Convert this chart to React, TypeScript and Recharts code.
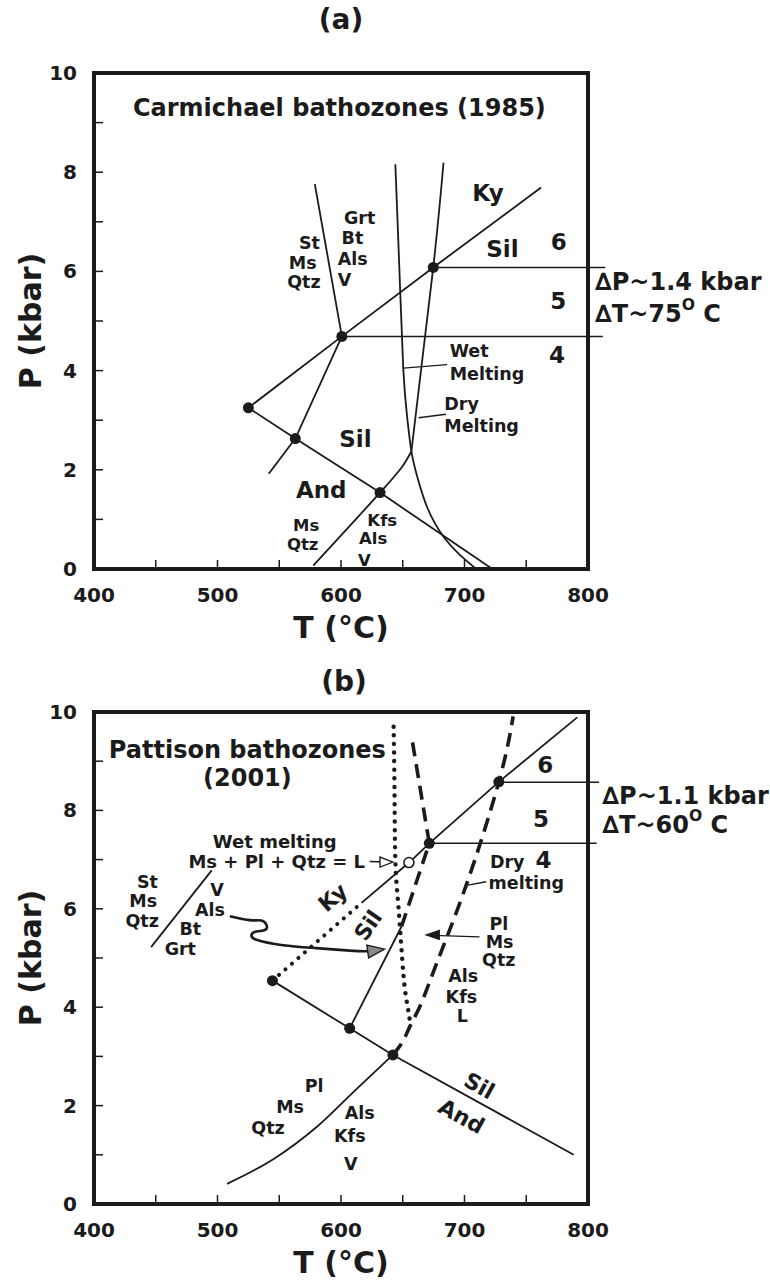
import React from 'react';
import { ComposedChart, XAxis, YAxis, Line, Scatter, ReferenceDot, ReferenceLine, ReferenceArea } from 'recharts';

type Pt = { T: number; P: number };
type Lbl = { T: number; P: number; text: string; size?: number; anchor?: 'start' | 'middle' | 'end'; rotate?: number; sup?: string; tail?: string };

// ---------- axes ----------
const tTicks = [400, 450, 500, 550, 600, 650, 700, 750, 800];
const pTicks = [0, 1, 2, 3, 4, 5, 6, 7, 8, 9, 10];
const tLabels = [400, 500, 600, 700, 800];
const pLabels = [0, 2, 4, 6, 8, 10];

// ---------- panel (a) Carmichael (1985) ----------
const aKySil: Pt[] = [{ T: 525, P: 3.25 }, { T: 600.7, P: 4.69 }, { T: 674.7, P: 6.08 }, { T: 762, P: 7.69 }];
const aAndSil: Pt[] = [{ T: 525, P: 3.25 }, { T: 563, P: 2.63 }, { T: 631.6, P: 1.54 }, { T: 722, P: 0.01 }];
const aStaurolite: Pt[] = [{ T: 578.8, P: 7.76 }, { T: 600.7, P: 4.69 }, { T: 563, P: 2.63 }, { T: 541.5, P: 1.92 }];
const aMsQtz: Pt[] = [{ T: 577.6, P: 0.07 }, { T: 604.5, P: 0.8 }, { T: 631.6, P: 1.54 }, { T: 642.6, P: 1.85 }, { T: 649.8, P: 2.07 }, { T: 657, P: 2.37 }];
const aWetMelt: Pt[] = [{ T: 644, P: 8.16 }, { T: 647.2, P: 6.1 }, { T: 650.4, P: 4.05 }, { T: 653.6, P: 3.05 }, { T: 657, P: 2.37 }, { T: 661.4, P: 1.89 }, { T: 670, P: 1.23 }, { T: 683, P: 0.65 }, { T: 696, P: 0.29 }, { T: 709, P: 0.01 }];
const aDryMelt: Pt[] = [{ T: 683, P: 8.19 }, { T: 674.7, P: 6.08 }, { T: 657, P: 2.37 }];
const aWetPointer: Pt[] = [{ T: 650.4, P: 4.05 }, { T: 686, P: 4.12 }];
const aDryPointer: Pt[] = [{ T: 662.8, P: 3.05 }, { T: 685, P: 3.12 }];
const aDots: Pt[] = [{ T: 525, P: 3.25 }, { T: 600.7, P: 4.69 }, { T: 674.7, P: 6.08 }, { T: 563, P: 2.63 }, { T: 631.6, P: 1.54 }];
const aZoneBounds = [{ P: 6.08, T0: 674.7, T1: 814 }, { P: 4.69, T0: 600.7, T1: 812 }];
const aLabels: Lbl[] = [
  { T: 598.7, P: 9.29, text: 'Carmichael bathozones (1985)', size: 24 },
  { T: 719, P: 7.58, text: 'Ky', size: 23 },
  { T: 730.7, P: 6.46, text: 'Sil', size: 23 },
  { T: 776.3, P: 6.59, text: '6', size: 23 },
  { T: 776, P: 5.41, text: '5', size: 23 },
  { T: 775, P: 4.32, text: '4', size: 23 },
  { T: 583, P: 6.57, text: 'St', anchor: 'end' },
  { T: 580.3, P: 6.16, text: 'Ms', anchor: 'end' },
  { T: 583.5, P: 5.78, text: 'Qtz', anchor: 'end' },
  { T: 602.4, P: 7.07, text: 'Grt', anchor: 'start' },
  { T: 600.5, P: 6.67, text: 'Bt', anchor: 'start' },
  { T: 597.3, P: 6.24, text: 'Als', anchor: 'start' },
  { T: 597.3, P: 5.83, text: 'V', anchor: 'start' },
  { T: 688, P: 4.39, text: 'Wet', anchor: 'start' },
  { T: 688, P: 3.94, text: 'Melting', anchor: 'start' },
  { T: 683.6, P: 3.32, text: 'Dry', anchor: 'start' },
  { T: 683.6, P: 2.89, text: 'Melting', anchor: 'start' },
  { T: 611.7, P: 2.63, text: 'Sil', size: 23 },
  { T: 584, P: 1.6, text: 'And', size: 23 },
  { T: 571.8, P: 0.87, text: 'Ms', size: 16.5 },
  { T: 569, P: 0.5, text: 'Qtz', size: 16.5 },
  { T: 633.4, P: 0.98, text: 'Kfs', size: 16.5 },
  { T: 626, P: 0.61, text: 'Als', size: 16.5 },
  { T: 619, P: 0.18, text: 'V', size: 16.5 },
  { T: 805.7, P: 5.78, text: '\u2206P~1.4 kbar', size: 24, anchor: 'start' },
  { T: 805.7, P: 5.14, text: '\u2206T~75', sup: 'O', tail: ' C', size: 24, anchor: 'start' },
];

// ---------- panel (b) Pattison (2001) ----------
const bKySilDotted: Pt[] = [{ T: 544.5, P: 4.54 }, { T: 616.6, P: 6.12 }];
const bKySil: Pt[] = [{ T: 616.6, P: 6.12 }, { T: 655.6, P: 6.95 }, { T: 671.5, P: 7.33 }, { T: 727.8, P: 8.58 }, { T: 791.3, P: 9.89 }];
const bAndSil: Pt[] = [{ T: 544.5, P: 4.54 }, { T: 607, P: 3.57 }, { T: 642, P: 3.03 }, { T: 788.4, P: 1.0 }];
const bStLine: Pt[] = [{ T: 446.2, P: 5.22 }, { T: 495.3, P: 6.78 }];
const bSilSolid: Pt[] = [{ T: 607, P: 3.57 }, { T: 649, P: 5.64 }];
const bWetDashed: Pt[] = [{ T: 649, P: 5.64 }, { T: 671.5, P: 7.33 }, { T: 657, P: 9.52 }];
const bDotted: Pt[] = [{ T: 642.6, P: 9.7 }, { T: 643.3, P: 8.5 }, { T: 644, P: 7.0 }, { T: 646, P: 6.2 }, { T: 647.5, P: 5.7 }, { T: 649.5, P: 5.0 }, { T: 651.5, P: 4.42 }, { T: 654, P: 4.0 }, { T: 656, P: 3.7 }];
const bMsQtz: Pt[] = [{ T: 507.7, P: 0.41 }, { T: 545.8, P: 0.92 }, { T: 580.5, P: 1.57 }, { T: 612.3, P: 2.33 }, { T: 642, P: 3.03 }];
const bDryMelt: Pt[] = [{ T: 642, P: 3.03 }, { T: 650, P: 3.3 }, { T: 656, P: 3.62 }, { T: 665, P: 4.08 }, { T: 678.5, P: 4.96 }, { T: 701.4, P: 6.48 }, { T: 727.8, P: 8.58 }, { T: 739.4, P: 9.91 }];
const bSquiggle: Pt[] = [{ T: 510, P: 5.85 }, { T: 526.2, P: 5.77 }, { T: 535.6, P: 5.76 }, { T: 539.7, P: 5.67 }, { T: 538.3, P: 5.57 }, { T: 530.2, P: 5.53 }, { T: 527.5, P: 5.47 }, { T: 531.6, P: 5.37 }, { T: 553.1, P: 5.26 }, { T: 580.1, P: 5.2 }, { T: 607, P: 5.15 }, { T: 623.2, P: 5.14 }, { T: 633, P: 5.17 }];
const bWetArrow: Pt[] = [{ T: 623.2, P: 6.96 }, { T: 636, P: 6.95 }];
const bPlArrow: Pt[] = [{ T: 712.2, P: 5.43 }, { T: 674, P: 5.46 }];
const bDryPointer: Pt[] = [{ T: 702.7, P: 6.48 }, { T: 717.6, P: 6.55 }];
const bDots: Pt[] = [{ T: 544.5, P: 4.54 }, { T: 607, P: 3.57 }, { T: 642, P: 3.03 }, { T: 671.5, P: 7.33 }, { T: 727.8, P: 8.58 }];
const bOpenDots: Pt[] = [{ T: 655, P: 6.94 }];
const bZoneBounds = [{ P: 8.57, T0: 727.8, T1: 809 }, { P: 7.33, T0: 671.5, T1: 807 }];
const bArrowHeads = [
  { T: 642.1, P: 6.95, angle: 0, len: 13, half: 5, fill: '#ffffff' },
  { T: 635.3, P: 5.18, angle: -8, len: 17, half: 6.5, fill: '#8a8a8a' },
  { T: 669, P: 5.47, angle: 180, len: 13, half: 4.5, fill: '#1b1b1b' },
];
const bLabels: Lbl[] = [
  { T: 524.2, P: 9.23, text: 'Pattison bathozones', size: 24 },
  { T: 524.2, P: 8.66, text: '(2001)', size: 24 },
  { T: 546.4, P: 7.36, text: 'Wet melting', size: 18 },
  { T: 619.5, P: 6.96, text: 'Ms + Pl + Qtz = L', size: 18, anchor: 'end' },
  { T: 443.3, P: 6.55, text: 'St' },
  { T: 439.9, P: 6.16, text: 'Ms' },
  { T: 439, P: 5.76, text: 'Qtz' },
  { T: 499.6, P: 6.38, text: 'V' },
  { T: 493.9, P: 5.98, text: 'Als' },
  { T: 478, P: 5.58, text: 'Bt' },
  { T: 469.9, P: 5.18, text: 'Grt' },
  { T: 593.5, P: 6.23, text: 'Ky', size: 22, rotate: -41 },
  { T: 622, P: 5.66, text: 'Sil', size: 22, rotate: -55 },
  { T: 720.6, P: 6.95, text: 'Dry', anchor: 'start' },
  { T: 763.9, P: 6.99, text: '4', size: 23 },
  { T: 719.5, P: 6.52, text: 'melting', anchor: 'start' },
  { T: 765.3, P: 8.92, text: '6', size: 23 },
  { T: 761.9, P: 7.83, text: '5', size: 23 },
  { T: 727.8, P: 5.7, text: 'Pl' },
  { T: 728.4, P: 5.33, text: 'Ms' },
  { T: 727.8, P: 4.96, text: 'Qtz' },
  { T: 698.9, P: 4.64, text: 'Als' },
  { T: 697.5, P: 4.21, text: 'Kfs' },
  { T: 698.3, P: 3.83, text: 'L' },
  { T: 712, P: 2.4, text: 'Sil', size: 22, rotate: 29 },
  { T: 697.5, P: 1.78, text: 'And', size: 22, rotate: 29 },
  { T: 578.2, P: 2.4, text: 'Pl' },
  { T: 558.8, P: 1.97, text: 'Ms' },
  { T: 540.9, P: 1.55, text: 'Qtz' },
  { T: 615.2, P: 1.84, text: 'Als' },
  { T: 607.1, P: 1.39, text: 'Kfs' },
  { T: 608, P: 0.81, text: 'V' },
  { T: 811.6, P: 8.3, text: '\u2206P~1.1 kbar', size: 24, anchor: 'start' },
  { T: 811.6, P: 7.7, text: '\u2206T~60', sup: 'O', tail: ' C', size: 24, anchor: 'start' },
];

// ---------- styling ----------
const INK = '#1b1b1b';
const FONT = '"DejaVu Sans", Verdana, sans-serif';

function tickRenderer(side: 'bottom' | 'top' | 'left' | 'right') {
  return (props: any) => {
    const { x, y, payload } = props;
    const v = Number(payload.value);
    const len = 9;
    const common = { stroke: INK, strokeWidth: 1.5 };
    if (side === 'bottom') {
      return (
        <g>
          <line x1={x} y1={y} x2={x} y2={y - len} {...common} />
          {tLabels.includes(v) && (
            <text x={x} y={y + 26} textAnchor="middle" dominantBaseline="central" fontSize={20} fontWeight="bold" fontFamily={FONT} fill={INK}>{v}</text>
          )}
        </g>
      );
    }
    if (side === 'top') return <line x1={x} y1={y} x2={x} y2={y + len} {...common} />;
    if (side === 'left') {
      return (
        <g>
          <line x1={x} y1={y} x2={x + len} y2={y} {...common} />
          {pLabels.includes(v) && (
            <text x={x - 17} y={y} textAnchor="end" dominantBaseline="central" fontSize={20} fontWeight="bold" fontFamily={FONT} fill={INK}>{v}</text>
          )}
        </g>
      );
    }
    return <line x1={x} y1={y} x2={x - len} y2={y} {...common} />;
  };
}

const xTitle = (props: any) => {
  const vb = props.viewBox || {};
  return (
    <text x={vb.x + vb.width / 2} y={vb.y + 58} textAnchor="middle" dominantBaseline="central" fontSize={30} fontWeight="bold" fontFamily={FONT} fill={INK}>T (°C)</text>
  );
};
const yTitle = (props: any) => {
  const vb = props.viewBox || {};
  const cx = 30;
  const cy = vb.y + vb.height / 2;
  return (
    <text x={cx} y={cy} transform={`rotate(-90 ${cx} ${cy})`} textAnchor="middle" dominantBaseline="central" fontSize={30} fontWeight="bold" fontFamily={FONT} fill={INK}>P (kbar)</text>
  );
};

function textShape(l: Lbl) {
  return (p: any) => {
    const { cx, cy } = p;
    const size = l.size ?? 17.5;
    return (
      <text
        x={cx}
        y={cy}
        textAnchor={l.anchor ?? 'middle'}
        dominantBaseline="central"
        fontSize={size}
        fontWeight="bold"
        fontFamily={FONT}
        fill={INK}
        transform={l.rotate ? `rotate(${l.rotate} ${cx} ${cy})` : undefined}
      >
        {l.text}
        {l.sup && <tspan dy={-9} fontSize={size * 0.65}>{l.sup}</tspan>}
        {l.tail && <tspan dy={9}>{l.tail}</tspan>}
      </text>
    );
  };
}

function arrowShape(a: { angle: number; len: number; half: number; fill: string }) {
  return (p: any) => {
    const { cx, cy } = p;
    const d = `M0,0 L${-a.len},${-a.half} L${-a.len},${a.half} Z`;
    return <path d={d} transform={`translate(${cx} ${cy}) rotate(${a.angle})`} fill={a.fill} stroke={INK} strokeWidth={1.4} strokeLinejoin="miter" />;
  };
}

const dotShape = (p: any) => <circle cx={p.cx} cy={p.cy} r={5.5} fill={INK} />;
const openDotShape = (p: any) => <circle cx={p.cx} cy={p.cy} r={5} fill="#ffffff" stroke={INK} strokeWidth={1.6} />;

function axes(xAxisHeight: number) {
  return [
    <XAxis key="xb" dataKey="T" type="number" domain={[400, 800]} ticks={tTicks} interval={0} allowDataOverflow height={xAxisHeight} axisLine={false} tickLine={false} tickSize={0} tickMargin={0} tick={tickRenderer('bottom')} label={xTitle} />,
    <XAxis key="xt" xAxisId="top" orientation="top" dataKey="T" type="number" domain={[400, 800]} ticks={tTicks} interval={0} allowDataOverflow height={0} axisLine={false} tickLine={false} tickSize={0} tickMargin={0} tick={tickRenderer('top')} />,
    <YAxis key="yl" dataKey="P" type="number" domain={[0, 10]} ticks={pTicks} interval={0} allowDataOverflow width={94} axisLine={false} tickLine={false} tickSize={0} tickMargin={0} tick={tickRenderer('left')} label={yTitle} />,
    <YAxis key="yr" yAxisId="right" orientation="right" dataKey="P" type="number" domain={[0, 10]} ticks={pTicks} interval={0} allowDataOverflow width={0} axisLine={false} tickLine={false} tickSize={0} tickMargin={0} tick={tickRenderer('right')} />,
    <ReferenceArea key="frame" x1={tTicks[0]} x2={tTicks[tTicks.length - 1]} y1={pTicks[0]} y2={pTicks[pTicks.length - 1]} ifOverflow="visible" fill="none" fillOpacity={0} stroke={INK} strokeWidth={4} strokeOpacity={1} />,
  ];
}

function curve(key: string, data: Pt[], opts: any = {}) {
  return (
    <Line
      key={key}
      data={data}
      dataKey="P"
      type={opts.type ?? 'linear'}
      stroke={INK}
      strokeWidth={opts.width ?? 1.8}
      strokeDasharray={opts.dash}
      strokeLinecap={opts.cap ?? 'butt'}
      dot={false}
      activeDot={false}
      isAnimationActive={false}
    />
  );
}

function zoneLines(bounds: { P: number; T0: number; T1: number }[], prefix: string) {
  return bounds.map((b, i) => (
    <ReferenceLine key={`${prefix}${i}`} segment={[{ x: b.T0, y: b.P }, { x: b.T1, y: b.P }]} ifOverflow="visible" stroke={INK} strokeWidth={1.5} />
  ));
}

function labels(ls: Lbl[], prefix: string) {
  return ls.map((l, i) => (
    <ReferenceDot key={`${prefix}${i}`} x={l.T} y={l.P} r={0} ifOverflow="visible" shape={textShape(l)} />
  ));
}

const titleStyle: React.CSSProperties = {
  position: 'absolute',
  left: 0,
  width: 682,
  textAlign: 'center',
  fontFamily: FONT,
  fontWeight: 'bold',
  fontSize: 28,
  color: INK,
  lineHeight: '34px',
};

export default function App() {
  return (
    <div style={{ position: 'absolute', left: 0, top: 0, width: 770, height: 1283, background: '#ffffff', overflow: 'hidden' }}>
      <div style={{ ...titleStyle, top: 3 }}>(a)</div>
      <div style={{ ...titleStyle, top: 665, width: 688 }}>(b)</div>

      <div style={{ position: 'absolute', left: 0, top: 0 }}>
        <ComposedChart width={770} height={660} margin={{ top: 73, right: 182, bottom: 0, left: 0 }}>
          {axes(91)}
          {curve('aKySil', aKySil)}
          {curve('aAndSil', aAndSil)}
          {curve('aSt', aStaurolite)}
          {curve('aMsQtz', aMsQtz, { type: 'monotone' })}
          {curve('aWet', aWetMelt, { type: 'natural' })}
          {curve('aDry', aDryMelt, { type: 'natural' })}
          {curve('aWetP', aWetPointer, { width: 1.4 })}
          {curve('aDryP', aDryPointer, { width: 1.4 })}
          {zoneLines(aZoneBounds, 'az')}
          <Scatter data={aDots} dataKey="P" shape={dotShape} isAnimationActive={false} />
          {labels(aLabels, 'al')}
        </ComposedChart>
      </div>

      <div style={{ position: 'absolute', left: 0, top: 640 }}>
        <ComposedChart width={770} height={643} margin={{ top: 72, right: 182, bottom: 0, left: 0 }}>
          {axes(79)}
          {curve('bKySilD', bKySilDotted, { width: 4, dash: '0.1 8.5', cap: 'round' })}
          {curve('bKySil', bKySil)}
          {curve('bAndSil', bAndSil)}
          {curve('bSt', bStLine)}
          {curve('bSil', bSilSolid)}
          {curve('bWetD', bWetDashed, { width: 3.6, dash: '14 8' })}
          {curve('bDot', bDotted, { type: 'natural', width: 4.4, dash: '0.1 8.5', cap: 'round' })}
          {curve('bMsQtz', bMsQtz, { type: 'monotone' })}
          {curve('bDry', bDryMelt, { type: 'natural', width: 3.6, dash: '14 8' })}
          {curve('bSq', bSquiggle, { type: 'natural', width: 2.6 })}
          {curve('bWetA', bWetArrow, { width: 1.4 })}
          {curve('bPlA', bPlArrow, { width: 1.4 })}
          {curve('bDryP', bDryPointer, { width: 1.4 })}
          {zoneLines(bZoneBounds, 'bz')}
          <Scatter data={bDots} dataKey="P" shape={dotShape} isAnimationActive={false} />
          <Scatter data={bOpenDots} dataKey="P" shape={openDotShape} isAnimationActive={false} />
          {bArrowHeads.map((a, i) => (
            <ReferenceDot key={`ah${i}`} x={a.T} y={a.P} r={0} ifOverflow="visible" shape={arrowShape(a)} />
          ))}
          {labels(bLabels, 'bl')}
        </ComposedChart>
      </div>
    </div>
  );
}
